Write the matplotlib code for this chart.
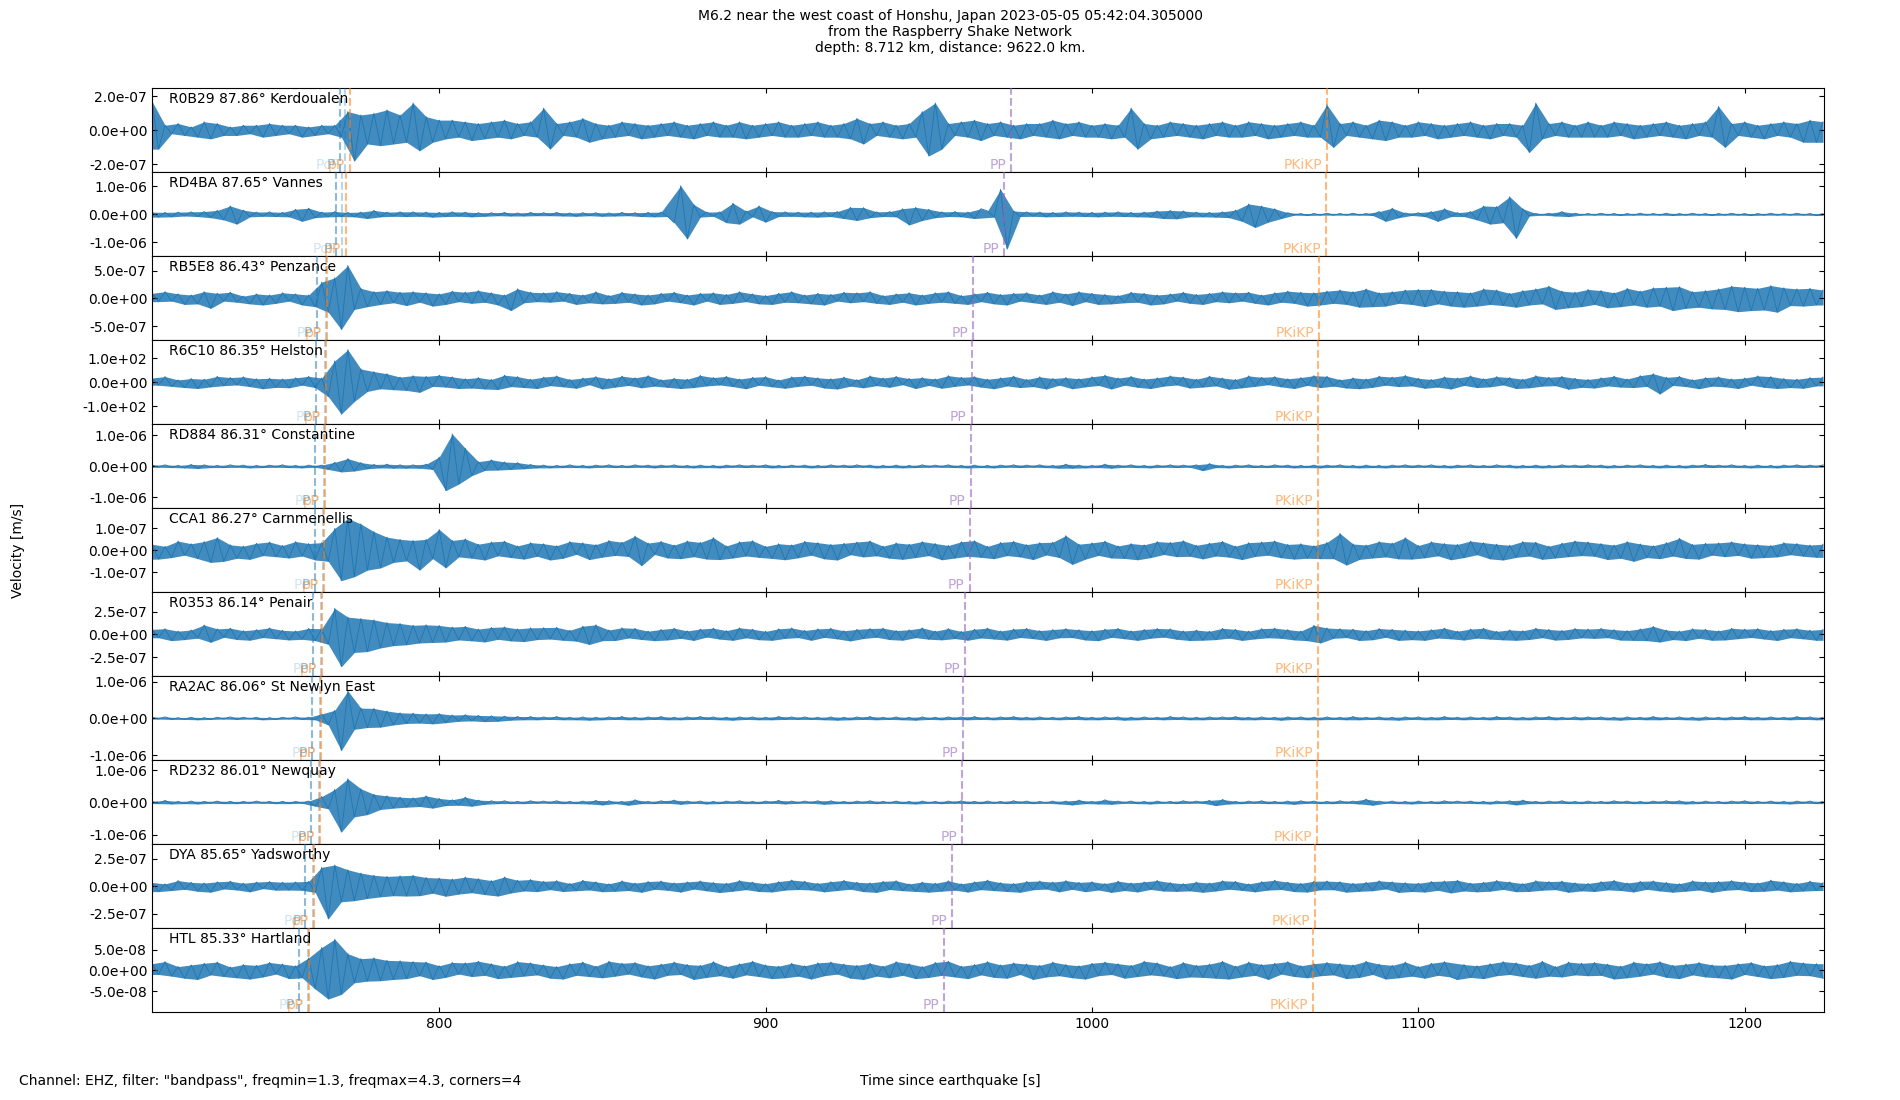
import numpy as np
import matplotlib
matplotlib.use("Agg")
import matplotlib.pyplot as plt
from matplotlib.ticker import FormatStrFormatter

# ---------------- data ----------------
stations = [
    "R0B29 87.86° Kerdoualen", "RD4BA 87.65° Vannes", "RB5E8 86.43° Penzance",
    "R6C10 86.35° Helston", "RD884 86.31° Constantine", "CCA1 86.27° Carnmenellis",
    "R0353 86.14° Penair", "RA2AC 86.06° St Newlyn East", "RD232 86.01° Newquay",
    "DYA 85.65° Yadsworthy", "HTL 85.33° Hartland",
]
# amplitude unit of each trace list (m/s, counts for R6C10)
units = [1e-8, 1e-8, 1e-8, 1.0, 1e-8, 1e-9, 1e-9, 1e-8, 1e-8, 1e-9, 1e-9]
ylims = [2.46e-7, 1.5e-6, 7.55e-7, 176.0, 1.35e-6, 1.91e-7, 4.63e-7, 1.145e-6, 1.3e-6, 3.8e-7, 1.01e-7]
ytick_vals = [2e-7, 1e-6, 5e-7, 100.0, 1e-6, 1e-7, 2.5e-7, 1e-6, 1e-6, 2.5e-7, 5e-8]
t_start = 712.0   # s, first sample
t_step = 2.0      # s between peak readings
xticks = [800, 900, 1000, 1100, 1200]

phase_names = ["P", "PcP", "pP", "PP", "PKiKP"]
P_t = [769.5, 768.5, 762.6, 762.2, 762.0, 761.8, 761.3, 761.0, 760.7, 759.0, 757.0]
PcP_t = [771.2, 770.3, 765.2, 764.9, 764.8, 764.4, 763.9, 763.6, 763.3, 761.4, 759.8]
pP_t = [772.6, 771.4, 765.6, 765.4, 765.1, 764.6, 764.1, 763.8, 763.5, 761.5, 760.0]
PP_t = [975.3, 973.2, 963.6, 963.1, 962.8, 962.5, 961.2, 960.6, 960.3, 957.2, 954.7]
PKiKP_t = [1072.1, 1071.7, 1069.5, 1069.2, 1069.2, 1069.4, 1069.2, 1069.2, 1069.0, 1068.4, 1067.7]

tr_R0B29 = [
    17, -11, 3, -2, 4, -3, 2, -4, 5, -5, 4, -3, 2, -3, 3, -2, 3, -4, 4, -3,
    3, -2, 3, -4, 2, -3, 3, -2, 3, -4, 11, -18, 9, -8, 10, -9, 12, -8, 9, -7,
    16, -12, 8, -7, 6, -5, 6, -4, 5, -6, 4, -5, 5, -4, 6, -5, 4, -3, 5, -4,
    13, -11, 4, -3, 5, -4, 7, -7, 4, -5, 3, -4, 5, -3, 4, -5, 3, -4, 4, -3,
    5, -4, 3, -5, 4, -3, 5, -4, 3, -4, 5, -5, 3, -4, 4, -3, 5, -4, 3, -4,
    4, -3, 5, -4, 3, -4, 4, -5, 7, -8, 4, -3, 5, -4, 3, -5, 4, -4, 11, -15,
    16, -11, 4, -3, 5, -4, 6, -6, 4, -3, 5, -4, 3, -5, 4, -3, 4, -4, 6, -5,
    4, -3, 5, -4, 3, -4, 4, -5, 3, -4, 13, -11, 4, -5, 3, -4, 5, -3, 4, -4,
    3, -5, 4, -3, 5, -4, 3, -4, 5, -3, 4, -5, 3, -4, 4, -3, 5, -4, 3, -4,
    15, -10, 4, -3, 5, -4, 3, -5, 6, -6, 5, -4, 3, -4, 5, -3, 4, -5, 3, -4,
    4, -3, 5, -4, 3, -5, 4, -3, 4, -4, 3, -13, 16, -5, 4, -3, 5, -4, 3, -4,
    5, -4, 3, -4, 5, -3, 4, -5, 3, -4, 4, -3, 5, -4, 3, -5, 4, -3, 5, -4,
    14, -10, 4, -3, 5, -4, 3, -5, 4, -3, 5, -4, 4, -7, 6, -7, 5,
]
tr_RD4BA = [
    8, -10, 7, -9, 8, -6, 9, -8, 10, -12, 14, -20, 30, -35, 15, -9, 8, -7, 9, -8,
    7, -9, 18, -25, 22, -12, 8, -9, 10, -8, 7, -9, 8, -15, 14, -9, 8, -7, 9, -8,
    9, -7, 8, -10, 7, -8, 9, -7, 8, -9, 6, -7, 6, -5, 7, -6, 5, -6, 7, -5,
    6, -5, 7, -6, 5, -7, 6, -5, 6, -7, 5, -6, 7, -5, 6, -8, 7, -9, 8, -8,
    -30, 102, -88, 35, -10, 8, -7, 9, -30, 40, -35, 12, -9, 30, -28, 10, -8, 9, -7, 8,
    -9, 8, -10, 9, -8, 10, -15, 25, -22, 24, -12, 9, -8, 10, -9, 20, -38, 25, -22, 18,
    -12, 9, -8, 10, -9, 8, -15, 20, 12, -10, 89, -124, 12, -8, 9, -7, 8, -9, 7, -8,
    9, -7, 8, -8, 7, -9, 8, -7, 9, -8, 7, -9, 8, -10, 12, -15, 14, -16, 12, -9,
    8, -9, 7, -10, 9, -12, 15, -25, 37, -47, 30, -28, 20, -15, 6, -3, 3, -4, 3, -3,
    4, -3, 3, -3, 4, -3, 3, -4, 10, -25, 22, -12, 5, -4, 6, -8, 10, -25, 20, -8,
    6, -8, 10, -20, 30, -35, 28, -30, 63, -86, 20, -6, 3, -3, 4, -6, 10, -8, 4, -3,
    3, -3, 4, -3, 3, -4, 3, -3, 4, -3, 3, -3, 4, -4, 3, -3, 4, -3, 3, -4,
    3, -3, 4, -3, 3, -4, 3, -3, 4, -3, 3, -3, 4, -3, 3, -4, 3,
]
tr_RB5E8 = [
    9, -6, 12, -5, 8, -11, 6, -10, 12, -18, 9, -5, 11, -7, 4, -10, 8, -12, 6, -9,
    10, -5, 8, -12, 6, -15, 29, -25, 37, -56, 59, -20, 18, -15, 12, -11, 14, -8, 11, -13,
    12, -7, 10, -14, 8, -11, 13, -6, 11, -9, 14, -7, 10, -12, 6, -22, 17, -8, 11, -6,
    10, -7, 12, -5, 9, -11, 6, -8, 12, -10, 5, -9, 11, -7, 8, -12, 6, -10, 9, -5,
    11, -8, 6, -12, 9, -5, 10, -11, 7, -9, 12, -6, 8, -10, 5, -11, 9, -7, 12, -8,
    6, -10, 9, -12, 7, -5, 11, -8, 10, -6, 12, -9, 5, -11, 8, -7, 10, -12, 6, -9,
    10, -7, 12, -9, 5, -11, 8, -6, 11, -10, 7, -12, 9, -5, 10, -8, 6, -11, 12, -7,
    8, -13, 12, -6, 9, -11, 7, -10, 5, -8, 11, -7, 9, -12, 6, -10, 8, -5, 11, -9,
    7, -11, 9, -6, 12, -8, 10, -5, 11, -9, 6, -12, 10, -7, 13, -9, 11, -14, 10, -12,
    13, -9, 15, -11, 12, -16, 17, -15, 10, -14, 12, -9, 15, -11, 16, -15, 16, -10, 13, -14,
    12, -16, 10, -14, 17, -11, 15, -13, 9, -16, 14, -12, 17, -10, 22, -20, 13, -17, 11, -15,
    16, -11, 14, -17, 10, -15, 18, -12, 13, -16, 19, -14, 20, -22, 21, -18, 12, -16, 14, -19,
    17, -20, 22, -24, 20, -22, 18, -21, 23, -25, 19, -13, 17, -14, 18, -12, 15,
]
tr_R6C10 = [
    18, -12, 24, -17, 10, -22, 16, -26, 13, -19, 25, -14, 20, -11, 23, -18, 15, -27, 17, -21,
    14, -23, 19, -12, 25, -22, 18, -60, 90, -133, 137, -80, 56, -38, 45, -27, 36, -31, 22, -34,
    28, -42, 25, -17, 30, -20, 23, -26, 15, -24, 20, -28, 12, -30, 30, -18, 24, -22, 13, -26,
    22, -14, 27, -19, 12, -25, 18, -10, 24, -28, 15, -20, 26, -13, 19, -23, 28, -16, 11, -21,
    17, -26, 13, -22, 29, -15, 20, -11, 25, -18, 14, -27, 21, -12, 24, -19, 10, -25, 23, -17,
    26, -12, 19, -24, 15, -28, 22, -16, 11, -23, 27, -14, 18, -21, 25, -10, 16, -26, 20, -13,
    14, -25, 28, -17, 21, -11, 24, -20, 13, -27, 19, -15, 26, -22, 12, -18, 23, -28, 16, -12,
    20, -27, 15, -19, 23, -13, 30, -28, 18, -12, 25, -21, 14, -26, 19, -16, 27, -11, 22, -24,
    13, -20, 26, -15, 18, -29, 12, -23, 27, -17, 21, -10, 24, -19, 15, -26, 20, -13, 28, -22,
    25, -16, 11, -24, 19, -27, 14, -21, 26, -12, 22, -18, 29, -15, 17, -25, 12, -20, 23, -28,
    18, -13, 27, -22, 15, -19, 24, -11, 20, -26, 13, -23, 28, -16, 21, -14, 25, -29, 17, -21,
    12, -24, 19, -15, 26, -20, 14, -22, 28, -17, 36, -49, 21, -13, 25, -18, 11, -27, 20, -16,
    23, -19, 14, -26, 18, -12, 27, -21, 24, -26, 16, -22, 13, -25, 20, -15, 22,
]
tr_RD884 = [
    4, -3, 5, -4, 3, -5, 6, -7, 5, -4, 3, -4, 5, -3, 4, -5, 3, -4, 4, -3,
    5, -4, 3, -5, 4, -3, 4, -10, 13, -18, 25, -15, 12, -8, 6, -5, 7, -6, 5, -6,
    5, -6, 7, -10, 30, -78, 104, -57, 58, -30, 15, -13, 21, -12, 14, -10, 12, -8, 6, -5,
    4, -5, 3, -4, 5, -4, 3, -5, 4, -3, 5, -4, 3, -4, 5, -3, 4, -5, 4, -3,
    5, -4, 3, -5, 4, -4, 3, -5, 4, -3, 5, -4, 4, -3, 5, -5, 3, -4, 4, -3,
    4, -5, 3, -4, 5, -3, 4, -4, 5, -3, 4, -5, 3, -4, 4, -5, 3, -4, 5, -3,
    4, -3, 5, -4, 3, -5, 4, -4, 3, -5, 4, -3, 5, -4, 4, -3, 5, -4, 3, -6,
    7, -6, 4, -5, 3, -4, 7, -6, 4, -3, 5, -4, 3, -5, 4, -3, 5, -4, 4, -3,
    5, -14, 9, -4, 3, -5, 4, -3, 5, -4, 3, -4, 5, -3, 4, -5, 3, -4, 4, -5,
    4, -3, 5, -4, 3, -5, 4, -4, 3, -5, 4, -3, 5, -4, 4, -3, 5, -4, 3, -5,
    4, -3, 5, -4, 3, -4, 5, -3, 4, -5, 3, -4, 4, -5, 3, -4, 5, -3, 4, -4,
    5, -3, 4, -5, 3, -4, 4, -3, 5, -4, 3, -5, 4, -4, 3, -5, 4, -3, 6, -4,
    4, -3, 5, -4, 3, -5, 4, -4, 3, -5, 4, -3, 5, -4, 4, -3, 5,
]
tr_CCA1 = [
    28, -40, 18, -33, 42, -22, 30, -38, 40, -55, 58, -50, 25, -36, 19, -41, 32, -24, 38, -29,
    22, -35, 40, -26, 31, -44, 35, -50, 100, -138, 145, -120, 120, -90, 85, -80, 60, -55, 50, -48,
    45, -90, 50, -38, 95, -80, 45, -30, 52, -36, 28, -44, 38, -25, 42, -33, 20, -40, 35, -27,
    30, -44, 21, -36, 40, -18, 34, -42, 26, -31, 45, -23, 37, -28, 65, -70, 33, -19, 41, -35,
    24, -38, 43, -29, 36, -40, 58, -42, 20, -35, 39, -26, 44, -32, 18, -37, 30, -43, 25, -34,
    41, -22, 35, -39, 27, -44, 32, -20, 38, -30, 43, -25, 19, -36, 34, -41, 28, -33, 40, -24,
    31, -43, 22, -35, 39, -27, 44, -32, 18, -38, 36, -24, 41, -30, 26, -42, 35, -21, 37, -33,
    67, -64, 28, -40, 34, -23, 42, -35, 20, -37, 31, -43, 25, -33, 40, -19, 36, -29, 44, -27,
    23, -39, 33, -26, 41, -31, 19, -42, 35, -28, 38, -22, 43, -34, 27, -40, 30, -36, 21, -38,
    36, -38, 77, -67, 29, -41, 24, -35, 40, -30, 33, -39, 58, -40, 22, -34, 39, -25, 31, -43,
    27, -33, 42, -20, 35, -39, 28, -44, 23, -32, 40, -26, 37, -41, 19, -35, 33, -29, 43, -24,
    38, -27, 31, -42, 24, -36, 40, -50, 29, -33, 21, -38, 35, -26, 55, -37, 27, -40, 32, -22,
    34, -29, 39, -23, 30, -36, 26, -33, 22, -30, 35, -20, 31, -27, 24, -32, 28,
]
tr_R0353 = [
    55, -38, 62, -70, 35, -58, 48, -42, 103, -88, 60, -33, 68, -57, 40, -65, 52, -36, 71, -49,
    44, -62, 37, -55, 65, -70, 62, -110, 287, -357, 190, -200, 175, -190, 160, -150, 130, -125, 120, -115,
    100, -95, 105, -90, 98, -85, 80, -62, 88, -72, 58, -84, 76, -55, 82, -73, 60, -80, 72, -58,
    74, -52, 77, -66, 45, -75, 90, -112, 105, -70, 48, -68, 72, -40, 66, -57, 35, -70, 54, -62,
    68, -44, 38, -67, 58, -30, 68, -53, 41, -66, 72, -39, 57, -60, 33, -66, 61, -45, 70, -36,
    43, -66, 60, -34, 67, -51, 39, -73, 55, -46, 64, -32, 68, -58, 42, -65, 50, -37, 71, -54,
    36, -61, 64, -47, 32, -65, 56, -40, 69, -52, 37, -64, 58, -35, 66, -48, 41, -67, 53, -38,
    64, -36, 51, -63, 40, -70, 57, -33, 66, -49, 38, -67, 54, -43, 65, -31, 60, -55, 37, -68,
    47, -65, 34, -58, 66, -42, 55, -67, 35, -50, 63, -38, 68, -44, 52, -62, 36, -70, 100, -95,
    70, -44, 62, -36, 57, -68, 41, -60, 64, -33, 55, -67, 46, -59, 38, -66, 52, -41, 69, -50,
    35, -63, 58, -42, 67, -53, 33, -61, 49, -66, 40, -57, 68, -37, 54, -64, 43, -56, 65, -39,
    58, -45, 66, -37, 52, -64, 41, -67, 60, -70, 88, -85, 47, -58, 36, -69, 62, -43, 55, -66,
    39, -62, 67, -48, 57, -35, 64, -52, 42, -68, 56, -37, 63, -50, 45, -66, 54,
]
tr_RA2AC = [
    3, -2, 4, -3, 2, -3, 3, -4, 2, -3, 3, -2, 4, -3, 3, -2, 3, -4, 2, -3,
    3, -2, 4, -3, 3, -4, 12, -18, 22, -88, 75, -30, 28, -25, 27, -24, 20, -18, 15, -14,
    14, -13, 12, -15, 13, -12, 9, -8, 10, -7, 8, -9, 7, -8, 6, -5, 5, -4, 5, -4,
    4, -3, 5, -4, 3, -4, 4, -5, 3, -4, 4, -3, 5, -4, 3, -4, 4, -3, 5, -4,
    3, -4, 4, -3, 5, -3, 4, -4, 3, -5, 4, -3, 4, -4, 3, -4, 5, -3, 4, -3,
    4, -3, 3, -4, 4, -5, 3, -4, 4, -3, 5, -4, 3, -3, 4, -4, 3, -5, 4, -3,
    3, -4, 4, -3, 4, -4, 5, -3, 3, -4, 4, -3, 5, -4, 3, -4, 4, -3, 3, -4,
    4, -3, 5, -4, 3, -4, 4, -3, 4, -5, 3, -4, 4, -3, 3, -4, 5, -3, 4, -4,
    3, -4, 4, -3, 4, -3, 5, -4, 3, -4, 4, -3, 3, -5, 4, -3, 4, -4, 3, -4,
    4, -3, 3, -4, 5, -4, 3, -3, 4, -4, 3, -5, 4, -3, 4, -4, 3, -4, 5, -3,
    3, -4, 4, -3, 3, -4, 5, -3, 4, -4, 3, -4, 4, -3, 5, -4, 3, -3, 4, -4,
    4, -3, 4, -4, 3, -5, 4, -3, 3, -4, 5, -4, 3, -3, 4, -4, 3, -5, 4, -3,
    3, -4, 4, -3, 5, -4, 3, -4, 4, -3, 3, -4, 5, -3, 4, -4, 3,
]
tr_RD232 = [
    3, -4, 6, -5, 3, -4, 4, -5, 3, -3, 4, -4, 3, -4, 3, -3, 4, -3, 3, -4,
    3, -4, 3, -3, 4, -12, 18, -20, 40, -92, 73, -45, 42, -38, 25, -22, 20, -18, 16, -15,
    14, -13, 20, -18, 12, -10, 8, -9, 16, -12, 7, -6, 5, -4, 5, -4, 3, -4, 5, -3,
    4, -3, 5, -4, 3, -4, 4, -5, 6, -8, 5, -4, 3, -9, 8, -4, 3, -4, 5, -3,
    7, -6, 4, -3, 4, -5, 3, -4, 4, -3, 5, -4, 3, -4, 4, -3, 6, -5, 4, -3,
    4, -3, 5, -6, 5, -4, 3, -4, 4, -3, 5, -4, 3, -3, 4, -4, 3, -5, 4, -3,
    3, -4, 4, -3, 5, -4, 3, -4, 4, -3, 3, -4, 5, -3, 4, -4, 3, -3, 4, -5,
    4, -8, 7, -4, 3, -5, 8, -6, 4, -3, 4, -4, 3, -5, 4, -3, 3, -4, 5, -3,
    4, -3, 6, -10, 9, -5, 3, -4, 4, -3, 5, -4, 3, -4, 4, -6, 5, -3, 4, -4,
    3, -4, 5, -3, 4, -5, 10, -9, 4, -3, 4, -4, 3, -5, 4, -3, 3, -4, 5, -3,
    4, -3, 4, -4, 3, -5, 4, -3, 5, -8, 7, -4, 3, -4, 4, -3, 5, -4, 3, -4,
    4, -3, 3, -4, 5, -3, 4, -4, 3, -4, 4, -3, 5, -4, 5, -5, 3, -4, 4, -3,
    3, -4, 4, -3, 5, -4, 3, -3, 4, -4, 3, -5, 4, -3, 4, -4, 3,
]
tr_DYA = [
    35, -48, 22, -38, 52, -27, 36, -45, 30, -53, 41, -24, 47, -33, 28, -50, 39, -21, 44, -35,
    37, -34, 40, -36, 45, -55, 172, -295, 193, -140, 150, -130, 120, -110, 100, -95, 90, -85, 95, -88,
    100, -85, 80, -62, 75, -90, 66, -70, 84, -58, 70, -75, 52, -88, 85, -60, 55, -42, 62, -48,
    45, -30, 52, -47, 26, -40, 55, -33, 41, -49, 23, -45, 50, -38, 29, -54, 44, -27, 48, -36,
    31, -52, 40, -25, 49, -41, 35, -56, 28, -44, 53, -30, 38, -47, 24, -51, 43, -34, 57, -29,
    46, -33, 27, -50, 42, -38, 54, -26, 37, -48, 31, -55, 45, -29, 51, -40, 22, -46, 39, -53,
    28, -44, 50, -35, 23, -52, 41, -30, 56, -39, 33, -47, 26, -54, 44, -31, 48, -25, 38, -50,
    52, -27, 36, -49, 42, -33, 25, -55, 47, -38, 30, -51, 40, -28, 53, -43, 34, -46, 24, -41,
    39, -54, 30, -42, 51, -26, 45, -37, 22, -50, 43, -34, 55, -29, 38, -48, 27, -52, 46, -32,
    48, -31, 42, -53, 27, -45, 36, -40, 50, -24, 41, -55, 33, -47, 28, -52, 44, -36, 48, -60,
    55, -42, 29, -50, 37, -44, 53, -28, 40, -49, 25, -46, 51, -35, 43, -30, 47, -54, 32, -41,
    26, -47, 43, -32, 54, -38, 30, -51, 45, -27, 49, -42, 35, -53, 24, -44, 50, -33, 41, -55,
    44, -36, 52, -29, 39, -48, 31, -45, 56, -34, 42, -50, 27, -43, 47, -38, 33,
]
tr_HTL = [
    16, -10, 21, -14, 9, -19, 13, -22, 17, -11, 20, -15, 8, -18, 14, -21, 12, -16, 19, -9,
    15, -20, 11, -18, 30, -45, 55, -69, 75, -58, 40, -30, 28, -26, 30, -25, 24, -22, 23, -20,
    21, -13, 20, -22, 11, -17, 19, -9, 18, -15, 22, -12, 16, -20, 10, -17, 21, -14, 18, -11,
    13, -19, 9, -21, 16, -12, 20, -15, 10, -18, 22, -14, 17, -9, 19, -16, 11, -21, 15, -12,
    20, -10, 14, -22, 12, -17, 21, -13, 9, -19, 16, -11, 22, -15, 13, -20, 10, -18, 17, -14,
    11, -21, 18, -13, 20, -9, 15, -19, 12, -22, 17, -14, 10, -18, 21, -12, 16, -20, 9, -17,
    19, -12, 22, -16, 10, -20, 14, -11, 21, -17, 13, -19, 18, -10, 15, -22, 12, -16, 20, -13,
    14, -18, 11, -21, 17, -13, 20, -10, 16, -19, 12, -15, 22, -11, 18, -14, 9, -20, 19, -16,
    12, -17, 15, -19, 22, -21, 10, -16, 20, -12, 14, -22, 17, -9, 21, -15, 11, -18, 16, -13,
    19, -11, 16, -20, 13, -17, 22, -10, 15, -21, 12, -18, 20, -14, 9, -19, 17, -12, 21, -16,
    -22, 14, -17, 11, -20, 16, -13, 21, -10, 18, -15, 12, -19, 22, -14, 9, -16, 20, -11, 17,
    -13, 19, -12, 15, -21, 10, -18, 20, -14, 16, -9, 21, -17, 12, -20, 15, -11, 19, -16, 13,
    -18, 12, -21, 16, -10, 19, -15, 11, -20, 14, -17, 22, -12, 18, -13, 16, -19,
]
traces = [tr_R0B29, tr_RD4BA, tr_RB5E8, tr_R6C10, tr_RD884, tr_CCA1,
          tr_R0353, tr_RA2AC, tr_RD232, tr_DYA, tr_HTL]
phase_times = [P_t, PcP_t, pP_t, PP_t, PKiKP_t]

# ---------------- style ----------------
trace_color = "#1f77b4"
phase_line_style = {
    "P": ("#1f77b4", 0.5, 0.5),
    "PcP": ("#1f77b4", 0.3, 0.2),
    "pP": ("#ff7f0e", 0.55, 0.55),
    "PP": ("#9467bd", 0.6, 0.6),
    "PKiKP": ("#ff7f0e", 0.55, 0.55),
}

plt.rcParams["font.family"] = ["DejaVu Sans"]
plt.rcParams["font.size"] = 10

fig = plt.figure(figsize=(19, 11), dpi=100)
axes = fig.subplots(len(traces), 1, sharex=True,
                    gridspec_kw=dict(hspace=0, left=0.08, right=0.96,
                                     top=0.9197, bottom=0.0797))

for k, ax in enumerate(axes):
    vals = np.asarray(traces[k], dtype=float) * units[k]
    t = t_start + t_step * np.arange(len(vals))
    # envelope through the positive and negative peak readings
    pos = vals > 0
    upper = np.interp(t, t[pos], vals[pos])
    lower = np.interp(t, t[~pos], vals[~pos])
    ax.fill_between(t, lower, upper, color=trace_color, alpha=0.85, lw=0, zorder=1)
    ax.plot(t, vals, color=trace_color, lw=0.6, zorder=2)
    ax.set_ylim(-ylims[k], ylims[k])
    ax.set_yticks([ytick_vals[k], 0.0, -ytick_vals[k]])
    ax.yaxis.set_major_formatter(FormatStrFormatter("%.1e"))
    ax.tick_params(direction="in", top=True, right=True, labelsize=10)
    ax.text(0.01, 0.96, stations[k], transform=ax.transAxes,
            va="top", ha="left", fontsize=10, zorder=5)
    for name, times in zip(phase_names, phase_times):
        col, la, ta = phase_line_style[name]
        x = times[k]
        ax.axvline(x, ls="--", color=col, alpha=la, lw=1.5, zorder=3)
        ax.annotate(name, xy=(x, 0), xycoords=("data", "axes fraction"),
                    xytext=(-3.5, 0.5), textcoords="offset points",
                    ha="right", va="bottom", color=col, alpha=ta,
                    fontsize=10, zorder=4)

axes[-1].set_xlim(712.0, 1224.3)
axes[-1].set_xticks(xticks)

fig.text(0.5, 0.992,
         "M6.2 near the west coast of Honshu, Japan 2023-05-05 05:42:04.305000\n"
         "from the Raspberry Shake Network\n"
         "depth: 8.712 km, distance: 9622.0 km.",
         ha="center", va="top", fontsize=10)
fig.text(0.0095, 0.5, "Velocity [m/s]", rotation=90, ha="center", va="center", fontsize=10)
fig.text(0.0102, 0.0176,
         'Channel: EHZ, filter: "bandpass", freqmin=1.3, freqmax=4.3, corners=4',
         ha="left", va="center", fontsize=10)
fig.text(0.5, 0.0176, "Time since earthquake [s]", ha="center", va="center", fontsize=10)

fig.savefig("out.png", dpi=100)
